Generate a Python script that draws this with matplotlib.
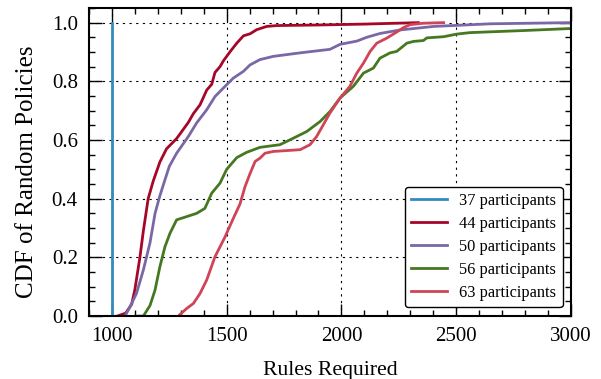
import matplotlib
matplotlib.use("Agg")
import matplotlib.pyplot as plt
from matplotlib.ticker import MultipleLocator

plt.rcParams['font.family'] = ['Liberation Serif', 'DejaVu Serif']

labels = ["37 participants", "44 participants", "50 participants", "56 participants", "63 participants"]
colors = ["#348ABD", "#A60628", "#7A68A6", "#467821", "#CF4457"]

x37 = [1000, 1000]
y37 = [0.0, 1.0]

x44 = [1023, 1060, 1086, 1100, 1122, 1137, 1158, 1180, 1209, 1238, 1282, 1296, 1333, 1355, 1384,
       1413, 1435, 1449, 1471, 1486, 1514, 1544, 1573, 1602, 1631, 1674, 1718, 1900, 2100, 2335]
y44 = [0.0, 0.01, 0.04, 0.09, 0.20, 0.29, 0.40, 0.46, 0.525, 0.57, 0.605, 0.62, 0.66, 0.69, 0.72,
       0.77, 0.79, 0.83, 0.85, 0.87, 0.90, 0.93, 0.955, 0.962, 0.976, 0.987, 0.99, 0.992, 0.995, 1.0]

x50 = [1057, 1078, 1107, 1137, 1166, 1188, 1209, 1231, 1250, 1282, 1333, 1369, 1413, 1449, 1493,
       1529, 1573, 1602, 1645, 1703, 1820, 1950, 1994, 2067, 2110, 2168, 2255, 2401, 2649, 3000]
y50 = [0.0, 0.03, 0.077, 0.157, 0.25, 0.35, 0.41, 0.464, 0.51, 0.555, 0.612, 0.658, 0.703, 0.748, 0.783,
       0.811, 0.834, 0.856, 0.874, 0.885, 0.897, 0.909, 0.926, 0.937, 0.95, 0.963, 0.975, 0.987, 0.996, 1.0]

x56 = [1107, 1137, 1166, 1188, 1209, 1231, 1253, 1282, 1326, 1369, 1405, 1435, 1471, 1500, 1544,
       1587, 1645, 1732, 1790, 1849, 1907, 1950, 1994, 2052, 2096, 2139, 2168, 2212, 2241, 2285,
       2314, 2357, 2372, 2445, 2503, 2561, 2793, 3000]
y56 = [0.0, 0.0, 0.036, 0.089, 0.168, 0.236, 0.282, 0.328, 0.339, 0.35, 0.367, 0.419, 0.453, 0.50, 0.54,
       0.558, 0.575, 0.584, 0.606, 0.629, 0.663, 0.697, 0.743, 0.783, 0.828, 0.845, 0.879, 0.897, 0.902, 0.93,
       0.936, 0.939, 0.948, 0.952, 0.961, 0.966, 0.973, 0.98]

x63 = [1289, 1326, 1355, 1384, 1413, 1449, 1493, 1529, 1558, 1580, 1602, 1624, 1645, 1667, 1703,
       1820, 1863, 1892, 1921, 1950, 1994, 2037, 2067, 2096, 2125, 2154, 2197, 2241, 2270, 2299,
       2357, 2445]
y63 = [0.0, 0.026, 0.043, 0.077, 0.123, 0.202, 0.27, 0.333, 0.382, 0.441, 0.486, 0.527, 0.538, 0.555, 0.561,
       0.567, 0.584, 0.612, 0.652, 0.692, 0.743, 0.783, 0.828, 0.862, 0.902, 0.93, 0.947, 0.968, 0.983, 0.993,
       0.998, 1.0]

xs = [x37, x44, x50, x56, x63]
ys = [y37, y44, y50, y56, y63]

fig = plt.figure(figsize=(6.01, 3.79), dpi=100)
ax = fig.add_axes([0.148, 0.166, 0.802, 0.813])

for x, y, c, l in zip(xs, ys, colors, labels):
    ax.plot(x, y, color=c, lw=2, label=l)

ax.set_xlim(900, 3000)
ax.set_ylim(0, 1.05)
ax.xaxis.set_major_locator(MultipleLocator(500))
ax.xaxis.set_minor_locator(MultipleLocator(100))
ax.yaxis.set_major_locator(MultipleLocator(0.2))
ax.yaxis.set_minor_locator(MultipleLocator(0.05))
ax.tick_params(which='both', direction='in', top=True, right=True, labelsize=15, pad=8)
ax.tick_params(which='major', length=9, width=1)
ax.tick_params(which='minor', length=4, width=1)
ax.grid(True, which='major', color='black', linestyle=(0, (2, 4)), linewidth=0.8)
for s in ax.spines.values():
    s.set_linewidth(1.5)

ax.set_xlabel("Rules Required", fontsize=15.7, labelpad=11)
ax.set_ylabel("CDF of Random Policies", fontsize=18, labelpad=10)
ax.yaxis.label.set_y(0.468)

leg = ax.legend(loc='lower right', fontsize=11.75, fancybox=True, framealpha=1,
                edgecolor='black', handlelength=2.2, handletextpad=0.74,
                borderpad=0.4, labelspacing=0.42, borderaxespad=0,
                bbox_to_anchor=(0.983, 0.029))
leg.get_frame().set_linewidth(1.0)

fig.savefig("out.png", dpi=100)
